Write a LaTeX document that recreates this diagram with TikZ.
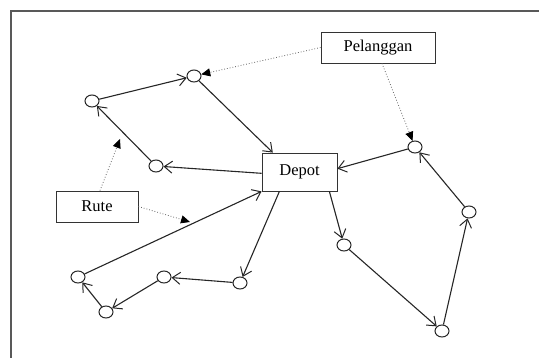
\documentclass[tikz,border=0pt]{standalone}
\usepackage{fontspec}
\setmainfont{Liberation Serif}
\usetikzlibrary{arrows.meta,shapes.geometric}
\begin{document}
\begin{tikzpicture}[x=1pt,y=-1pt,
  stop/.style={draw=black!85,ellipse,minimum width=14pt,minimum height=12pt,inner sep=0pt,line width=1pt},
  labelbox/.style={draw=black!80,rectangle,inner sep=0pt,line width=0.8pt,font=\fontsize{16.5}{18}\selectfont},
  route/.style={draw=black!85,line width=1.1pt,-{Straight Barb[length=8pt,width=12pt,line width=1pt]}},
  pointer/.style={draw=black!60,dotted,line width=0.8pt,-{Triangle[length=9pt,width=8pt,fill=black,color=black]}},
  frame/.style={draw=black!65,line width=2pt}]
\useasboundingbox (0,0) rectangle (539,358);
% frame
\draw[frame] (11,358) -- (11,11) -- (539,11);
% boxes
\node[labelbox,minimum width=114pt,minimum height=31pt] (Pel) at (378,47.5) {Pelanggan};
\node[labelbox,minimum width=75pt,minimum height=38pt] (Depot) at (299.5,172) {Depot};
\node[labelbox,minimum width=82pt,minimum height=31pt] (Rute) at (97,206.5) {Rute};
% customers
\node[stop] (A) at (194,76) {};
\node[stop] (B) at (92,101) {};
\node[stop] (C) at (156,166) {};
\node[stop] (D) at (415,147) {};
\node[stop] (E) at (469,212) {};
\node[stop] (F) at (344,245) {};
\node[stop] (G) at (442,331) {};
\node[stop] (H) at (240,283) {};
\node[stop] (I) at (164,277) {};
\node[stop] (J) at (78,277) {};
\node[stop] (K) at (106,312) {};
% routes
\draw[route] (B) -- (A);
\draw[route] (A) -- (Depot.144);
\draw[route] (Depot.182) -- (C);
\draw[route] (C) -- (B);
\draw[route] (D) -- (Depot.5);
\draw[route] (E) -- (D);
\draw[route] (G) -- (E);
\draw[route] (F) -- (G);
\draw[route] (Depot.327) -- (F);
\draw[route] (Depot.224) -- (H);
\draw[route] (H) -- (I);
\draw[route] (I) -- (K);
\draw[route] (K) -- (J);
\draw[route] (J) -- (Depot.south west);
% pointers
\coordinate (rb) at (120,139);
\coordinate (rj) at (190,222);
\draw[pointer] (Pel.west) -- (A);
\draw[pointer] ([xshift=4pt]Pel.south) -- (D);
\draw[pointer] ([xshift=3pt]Rute.north) -- (rb);
\draw[pointer] (Rute.east) -- (rj);
\end{tikzpicture}
\end{document}
